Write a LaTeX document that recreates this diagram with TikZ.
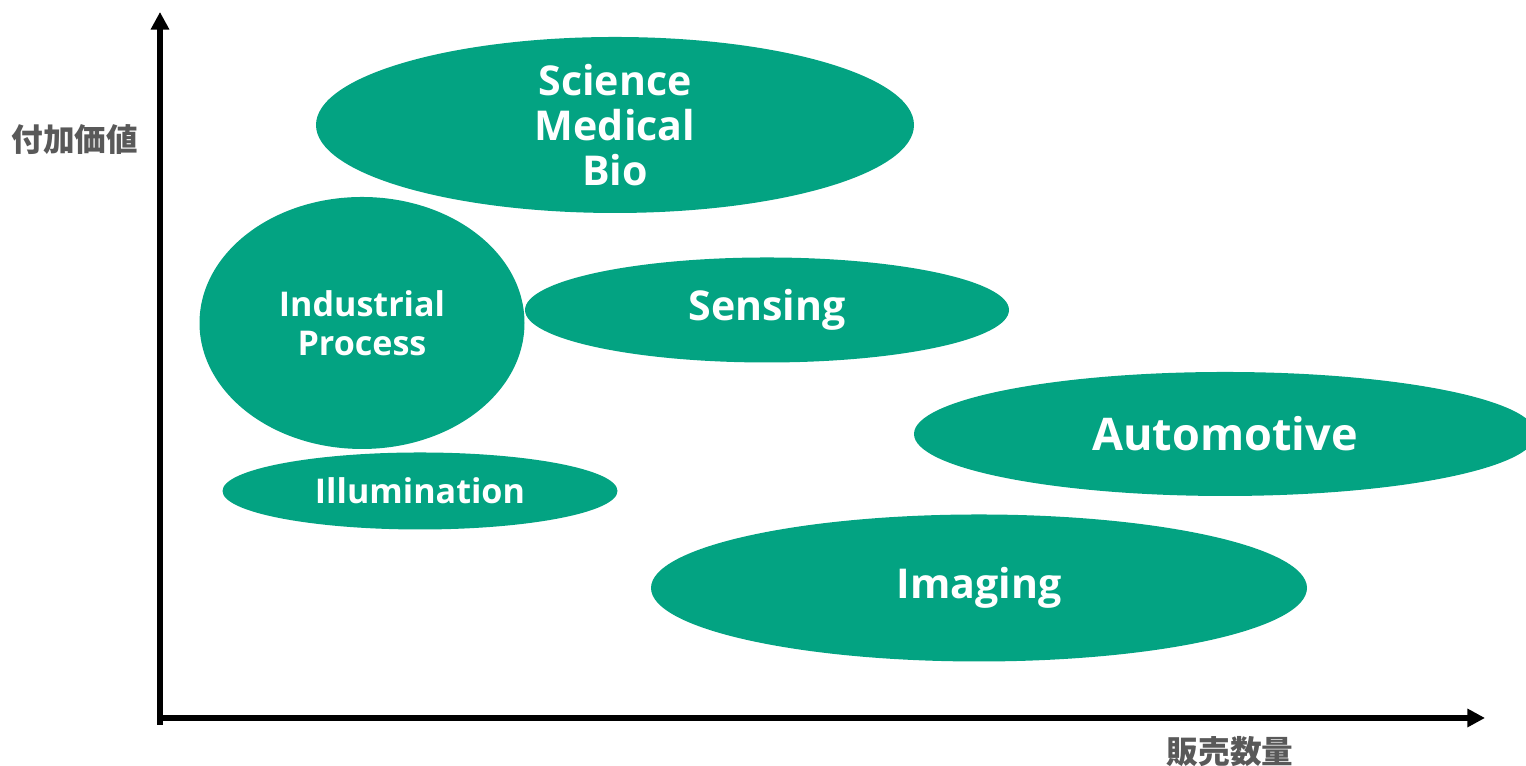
\documentclass[tikz,border=0pt]{standalone}
\usepackage{fontspec}
\setsansfont{Open Sans}
\newfontfamily\jpfont{Noto Sans CJK JP}
\usetikzlibrary{shapes.geometric,arrows.meta}

\definecolor{teal}{RGB}{3,163,130}
\definecolor{axisgray}{RGB}{89,89,89}

\tikzset{
  blob/.style={ellipse,fill=teal,draw=none,inner sep=0pt,text=white,
    align=center,font=\sffamily\bfseries\fontsize{11.7}{12.8}\selectfont},
  smallblob/.style={blob,font=\sffamily\bfseries\fontsize{9.7}{11}\selectfont},
  axislabel/.style={text=axisgray,font=\jpfont\bfseries\fontsize{9}{10}\selectfont},
  axisline/.style={line width=1.5pt,-{Triangle[length=5pt,width=5pt]}}
}

\begin{document}
\begin{tikzpicture}
  \useasboundingbox (0,0) rectangle (15.26,7.66);

  % bubbles
  \node[blob,minimum width=5.98cm,minimum height=1.76cm] (sci) at (6.15,6.41) {Science\\Medical\\Bio};
  \node[smallblob,minimum width=3.25cm,minimum height=2.52cm] (ind) at (3.62,4.43) {Industrial\\Process};
  \node[blob,minimum width=4.84cm,minimum height=1.05cm] (sen) at (7.67,4.56) {Sensing};
  \node[blob,minimum width=6.22cm,minimum height=1.24cm,
    font=\sffamily\bfseries\fontsize{12.8}{14}\selectfont] (auto) at (12.25,3.32) {Automotive};
  \node[smallblob,minimum width=3.95cm,minimum height=0.77cm] (ill) at (4.20,2.75) {Illumination};
  \node[blob,minimum width=6.56cm,minimum height=1.47cm] (img) at (9.79,1.78) {Imaging};

  % axes
  \coordinate (ybot) at (1.60,0.41);
  \coordinate (ytip) at (1.60,7.54);
  \coordinate (xbot) at (1.58,0.48);
  \coordinate (xtip) at (14.85,0.48);
  \draw[axisline] (ybot) -- (ytip);
  \draw[axisline] (xbot) -- (xtip);

  \node[axislabel] (value) at (0.75,6.26) {付加価値};
  \node[axislabel] (volume) at (12.30,0.14) {販売数量};
\end{tikzpicture}
\end{document}
